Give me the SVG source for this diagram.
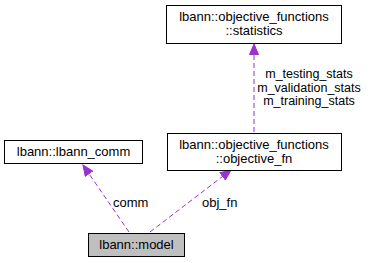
<svg xmlns="http://www.w3.org/2000/svg" width="370" height="263" viewBox="0 0 370 263">
  <style>
    .box { fill: #ffffff; stroke: #000000; stroke-width: 1; }
    .cur { fill: #bfbfbf; }
    text { font-family: "Liberation Sans", Arial, sans-serif; font-size: 13px; fill: #000000; }
    .mid { text-anchor: middle; }
    .lbl { font-size: 12.5px; }
    .edge { fill: none; stroke: #9a32cd; stroke-width: 1; stroke-dasharray: 5,3; }
  </style>
  <defs>
    <marker id="arrow" markerWidth="12" markerHeight="10" refX="11" refY="5" orient="auto" markerUnits="userSpaceOnUse">
      <path d="M0.5,0.5 L11,5 L0.5,9.5 Z" fill="#9a32cd" stroke="#9a32cd"/>
    </marker>
  </defs>

  <g id="connectors">
    <path class="edge" d="M129,232 L83,165" marker-end="url(#arrow)"/>
    <text x="113" y="207">comm</text>
    <path class="edge" d="M150,232 L231,170" marker-end="url(#arrow)"/>
    <text x="202" y="207">obj_fn</text>
    <path class="edge" d="M254,132 L254,44" marker-end="url(#arrow)"/>
    <text class="mid lbl" x="309" y="78">m_testing_stats</text>
    <text class="mid lbl" x="309" y="91.5">m_validation_stats</text>
    <text class="mid lbl" x="309" y="105">m_training_stats</text>
  </g>

  <g id="node-statistics">
    <rect class="box" x="166.5" y="5.5" width="175" height="38"/>
    <text class="mid" x="254" y="21">lbann::objective_functions</text>
    <text class="mid" x="254" y="35">::statistics</text>
  </g>

  <g id="node-objective_fn">
    <rect class="box" x="167.5" y="133.5" width="174" height="37"/>
    <text class="mid" x="254" y="149">lbann::objective_functions</text>
    <text class="mid" x="254" y="163">::objective_fn</text>
  </g>

  <g id="node-lbann_comm">
    <rect class="box" x="4.5" y="140.5" width="138" height="23"/>
    <text class="mid" x="73.5" y="156">lbann::lbann_comm</text>
  </g>

  <g id="node-model">
    <rect class="box cur" x="88.5" y="233.5" width="96" height="23"/>
    <text class="mid" x="136.5" y="249">lbann::model</text>
  </g>
</svg>
